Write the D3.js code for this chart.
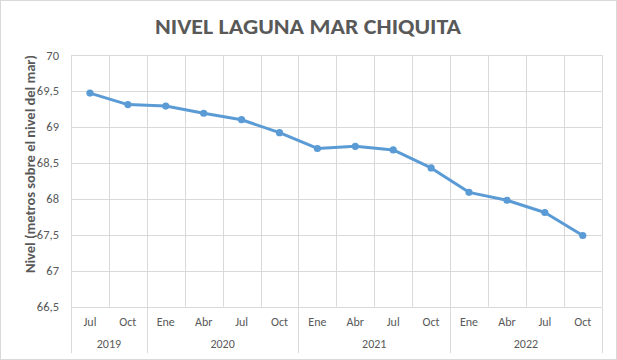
<!DOCTYPE html>
<html><head><meta charset="utf-8">
<script src="https://cdn.jsdelivr.net/npm/d3@7"></script>
<style>
body{margin:0;background:#fff;}
svg{display:block;font-family:Carlito, Lato, "Open Sans", sans-serif;}
</style></head>
<body><svg id="c" width="617" height="360"></svg>
<script>
const months = ["Jul","Oct","Ene","Abr","Jul","Oct","Ene","Abr","Jul","Oct","Ene","Abr","Jul","Oct"];
const years = ["2019","2020","2021","2022"];
const yearCounts = [2,4,4,4];
const values = [69.47,69.31,69.29,69.19,69.10,68.92,68.70,68.73,68.68,68.43,68.09,67.98,67.81,67.49];
const yTicks = [66.5,67,67.5,68,68.5,69,69.5,70];
const title = "NIVEL LAGUNA MAR CHIQUITA";
const yTitle = "Nivel (metros sobre el nivel del mar)";

const svg = d3.select("#c");
const W=617,H=360;
const L=71,R=601.7,T=55,B=306.7;
const grid="#d9d9d9", txt="#595959", blue="#5B9BD5";

svg.append("rect").attr("x",0.5).attr("y",0.5).attr("width",W-1).attr("height",H-1)
  .attr("fill","#fff").attr("stroke",grid);

const x = d3.scaleBand().domain(d3.range(values.length)).range([L,R]).padding(0);
const y = d3.scaleLinear().domain([66.5,70]).range([B,T]);
const loc = d3.formatLocale({decimal:",",thousands:".",grouping:[3],currency:["$",""]});
const fmt = v => Number.isInteger(v) ? String(v) : loc.format(".1f")(v);

svg.append("g").selectAll("line").data(yTicks).join("line")
  .attr("x1",L).attr("x2",R).attr("y1",d=>Math.round(y(d))+0.5).attr("y2",d=>Math.round(y(d))+0.5)
  .attr("stroke",grid).attr("stroke-width",1);
const bounds = d3.range(values.length+1).map(i=> i<values.length ? x(i) : R);
svg.append("g").selectAll("line").data(bounds).join("line")
  .attr("x1",d=>Math.round(d)+0.5).attr("x2",d=>Math.round(d)+0.5).attr("y1",T).attr("y2",B)
  .attr("stroke",grid);

let cum=[0]; yearCounts.forEach(c=>cum.push(cum[cum.length-1]+c));
svg.append("g").selectAll("line").data(cum).join("line")
  .attr("x1",d=>Math.round(d<values.length?x(d):R)+0.5).attr("x2",d=>Math.round(d<values.length?x(d):R)+0.5)
  .attr("y1",B).attr("y2",353).attr("stroke",grid);

svg.append("g").selectAll("text").data(yTicks).join("text")
  .attr("x",59).attr("y",d=>y(d)+4.5).attr("text-anchor","end")
  .attr("font-size",12.5).attr("fill",txt).text(fmt);

svg.append("g").selectAll("text").data(months).join("text")
  .attr("x",(d,i)=>x(i)+x.bandwidth()/2).attr("y",326).attr("text-anchor","middle")
  .attr("font-size",12).attr("fill",txt).text(d=>d);
svg.append("g").selectAll("text").data(years).join("text")
  .attr("x",(d,i)=>{const a=x(cum[i]); const b=cum[i+1]<values.length?x(cum[i+1]):R; return (a+b)/2;})
  .attr("y",348).attr("text-anchor","middle")
  .attr("font-size",12).attr("fill",txt).text(d=>d);

const line = d3.line().x((d,i)=>x(i)+x.bandwidth()/2).y(d=>y(d));
svg.append("path").datum(values).attr("d",line).attr("fill","none")
  .attr("stroke",blue).attr("stroke-width",3).attr("stroke-linejoin","round");
svg.append("g").selectAll("circle").data(values).join("circle")
  .attr("cx",(d,i)=>x(i)+x.bandwidth()/2).attr("cy",d=>y(d)).attr("r",3.6).attr("fill",blue);

svg.append("text").attr("x",308).attr("y",34).attr("text-anchor","middle")
  .attr("font-size",23).attr("font-weight","bold").attr("fill",txt)
  .attr("textLength",306).attr("lengthAdjust","spacingAndGlyphs").text(title);
svg.append("text").attr("transform","translate(35,164) rotate(-90)").attr("text-anchor","middle")
  .attr("font-size",13).attr("font-weight","bold").attr("fill",txt)
  .attr("textLength",218).attr("lengthAdjust","spacingAndGlyphs").text(yTitle);
</script></body></html>
